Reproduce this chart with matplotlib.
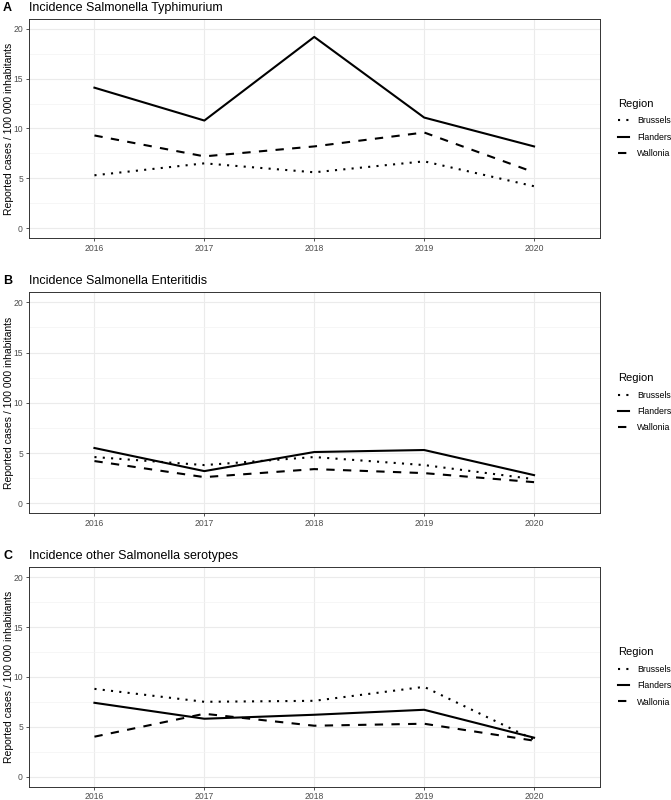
import matplotlib
matplotlib.use("Agg")
import matplotlib.pyplot as plt
from matplotlib.lines import Line2D

plt.rcParams['font.family'] = ['Liberation Sans', 'DejaVu Sans']

# -----------------------------------------------------------------------------
# Data
# -----------------------------------------------------------------------------
years = ["2016", "2017", "2018", "2019", "2020"]
regions = ["Brussels", "Flanders", "Wallonia"]

typhimurium_brussels = [5.3, 6.5, 5.6, 6.7, 4.2]
typhimurium_flanders = [14.1, 10.8, 19.2, 11.1, 8.2]
typhimurium_wallonia = [9.3, 7.2, 8.2, 9.6, 5.6]

enteritidis_brussels = [4.6, 3.8, 4.6, 3.8, 2.4]
enteritidis_flanders = [5.5, 3.2, 5.1, 5.3, 2.8]
enteritidis_wallonia = [4.2, 2.6, 3.4, 3.0, 2.1]

other_brussels = [8.8, 7.5, 7.6, 9.0, 3.7]
other_flanders = [7.4, 5.8, 6.2, 6.7, 3.9]
other_wallonia = [4.0, 6.3, 5.1, 5.3, 3.6]

panel_letters = ["A", "B", "C"]
panel_titles = ["Incidence Salmonella Typhimurium",
                "Incidence Salmonella Enteritidis",
                "Incidence other Salmonella serotypes"]
panel_series = [
    [typhimurium_brussels, typhimurium_flanders, typhimurium_wallonia],
    [enteritidis_brussels, enteritidis_flanders, enteritidis_wallonia],
    [other_brussels, other_flanders, other_wallonia],
]

# -----------------------------------------------------------------------------
# Styling (ggplot theme_bw look)
# -----------------------------------------------------------------------------
W, H = 671, 800
LW = 1.5
styles = {
    "Brussels": dict(linestyle=(0, (1, 3)), dash_capstyle='butt'),
    "Flanders": dict(linestyle='-'),
    "Wallonia": dict(linestyle=(0, (4, 4)), dash_capstyle='butt'),
}
# axes boxes in pixels: (left, top, right, bottom)
boxes = [(28.5, 19, 600, 238), (28.5, 292.3, 600, 513.3), (28.5, 567.3, 600, 786.5)]

fig = plt.figure(figsize=(W / 100, H / 100), dpi=100)

def px_rect(l, t, r, b):
    return [l / W, 1 - b / H, (r - l) / W, (b - t) / H]

x = list(range(len(years)))
for i, (l, t, r, b) in enumerate(boxes):
    ax = fig.add_axes(px_rect(l, t, r, b))
    ax.set_xlim(-0.6, len(years) - 1 + 0.6)
    ax.set_ylim(-1, 21)
    ax.set_yticks([0, 5, 10, 15, 20])
    ax.set_yticks([2.5, 7.5, 12.5, 17.5], minor=True)
    ax.set_xticks(x)
    ax.set_xticklabels(years)
    ax.grid(True, which='major', color='#EBEBEB', linewidth=0.8)
    ax.grid(True, which='minor', axis='y', color='#F3F3F3', linewidth=0.5)
    ax.set_axisbelow(True)
    for s in ax.spines.values():
        s.set_color('#333333')
        s.set_linewidth(0.7)
    ax.tick_params(which='major', length=2.5, width=0.6, color='#333333',
                   labelsize=6.2, labelcolor='#4D4D4D', pad=1.5)
    ax.tick_params(which='minor', length=0)

    for reg, vals in zip(regions, panel_series[i]):
        ax.plot(x, vals, color='black', linewidth=LW, **styles[reg])

    # y label placed in figure pixels
    fig.text(9 / W, 1 - ((t + b) / 2) / H, "Reported cases / 100 000 inhabitants",
             fontsize=7.5, rotation=90, ha='center', va='center')

    # panel letter and title
    fig.text(3 / W, 1 - (t - 8) / H, panel_letters[i], fontsize=9,
             fontweight='bold', ha='left', va='baseline')
    fig.text(l / W, 1 - (t - 8) / H, panel_titles[i], fontsize=9,
             ha='left', va='baseline')

    # legend
    handles = [Line2D([], [], color='black', linewidth=LW, **styles[reg])
               for reg in regions]
    cy = (t + b) / 2
    fig.legend(handles, regions, title="Region", loc='center left',
               bbox_to_anchor=(610 / W, 1 - cy / H), frameon=False,
               fontsize=6.3, title_fontsize=8, handlelength=1.3,
               handletextpad=0.9, labelspacing=0.85, alignment='left')

fig.savefig("out.png", dpi=100)
